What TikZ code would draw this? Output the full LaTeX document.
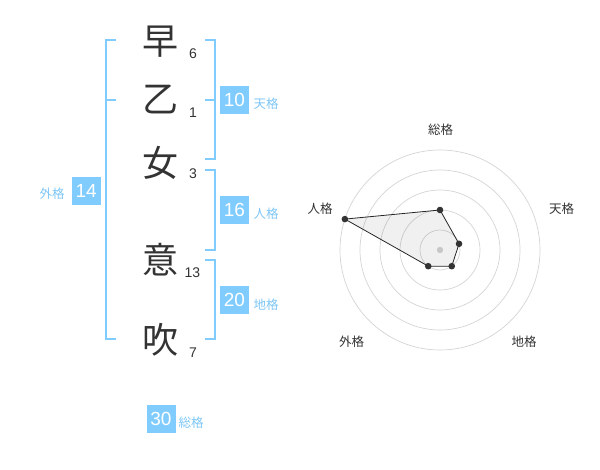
\documentclass[tikz,border=0pt]{standalone}
\usepackage{fontspec}
\setmainfont{Liberation Sans}
\newfontfamily\jpfont{Noto Sans CJK JP}
\definecolor{kakublue}{RGB}{128,204,255}
\definecolor{kakutext}{RGB}{125,198,245}
\definecolor{ringgray}{RGB}{212,212,212}
\definecolor{inkgray}{RGB}{51,51,51}
\tikzset{
  kanji/.style={font=\jpfont\fontsize{36}{36}\selectfont,text=inkgray,inner sep=0pt},
  kakusu/.style={font=\fontsize{14}{14}\selectfont,text=inkgray,inner sep=0pt},
  kakubox/.style={fill=kakublue,text=white,minimum width=29pt,minimum height=28.5pt,inner sep=0pt,font=\fontsize{19}{19}\selectfont},
  kakuname/.style={font=\jpfont\fontsize{12.5}{12.5}\selectfont,text=kakutext,inner sep=0pt},
  bracket/.style={kakublue,line width=2pt},
  axisname/.style={font=\jpfont\fontsize{12.5}{12.5}\selectfont,text=inkgray,inner sep=0pt},
  ring/.style={ringgray,line width=.7pt},
  dot/.style={circle,fill=inkgray,inner sep=0pt,minimum size=6.6pt}
}
\begin{document}
\begin{tikzpicture}[x=1pt,y=-1pt]
    \useasboundingbox (0,0) rectangle (600,470);
    \node[kanji] (c1) at (160,42) {早};
    \node[kanji] (c2) at (160,100) {乙};
    \node[kanji] (c3) at (160,163) {女};
    \node[kanji] (c4) at (160,260) {意};
    \node[kanji] (c5) at (160,340) {吹};
    \node[kakusu] (n1) at (193,53.3) {6};
    \node[kakusu] (n2) at (193,113) {1};
    \node[kakusu] (n3) at (193,173.3) {3};
    \node[kakusu] (n4) at (192.3,272.5) {13};
    \node[kakusu] (n5) at (193,352.7) {7};
    \draw[bracket] (116,40) -- (106,40) -- (106,339.3) -- (116,339.3) (106,100) -- (116,100);
    \draw[bracket] (205,40) -- (215,40) -- (215,159.3) -- (205,159.3) (205,100) -- (215,100);
    \draw[bracket] (205,170) -- (215,170) -- (215,250) -- (205,250);
    \draw[bracket] (205,260.5) -- (215,260.5) -- (215,339.3) -- (205,339.3);
    \node[kakubox] (ten) at (234.5,100) {10};
    \node[kakuname] at (266,104) {天格};
    \node[kakubox] (jin) at (234.5,210) {16};
    \node[kakuname] at (266,214) {人格};
    \node[kakubox] (chi) at (234.5,300) {20};
    \node[kakuname] at (266,304.5) {地格};
    \node[kakubox] (gai) at (86.2,191) {14};
    \node[kakuname] at (52,194) {外格};
    \node[kakubox] (sou) at (161,419) {30};
    \node[kakuname] at (191,422.5) {総格};
    \begin{scope}[shift={(440,250)},y=1pt]
        \foreach \r in {20,40,60,80,100}
            \draw[ring] (0,0) circle (\r);
        \fill[ringgray] (0,0) circle (3.2);
        \coordinate (p1) at (90:40);
        \coordinate (p2) at (18:20);
        \coordinate (p3) at (-54:20);
        \coordinate (p4) at (-126:20);
        \coordinate (p5) at (162:100);
        \fill[black,opacity=.06] (p1) -- (p2) -- (p3) -- (p4) -- (p5) -- cycle;
        \draw[black!85,line width=.8pt] (p1) -- (p2) -- (p3) -- (p4) -- (p5) -- cycle;
        \foreach \p in {p1,p2,p3,p4,p5}
            \node[dot] at (\p) {};
    \end{scope}
    \node[axisname] (a1) at (440.7,130) {総格};
    \node[axisname] (a2) at (561.7,208.3) {天格};
    \node[axisname] (a3) at (524,341.7) {地格};
    \node[axisname] (a4) at (351.7,341.7) {外格};
    \node[axisname] (a5) at (320,208.3) {人格};
\end{tikzpicture}
\end{document}
